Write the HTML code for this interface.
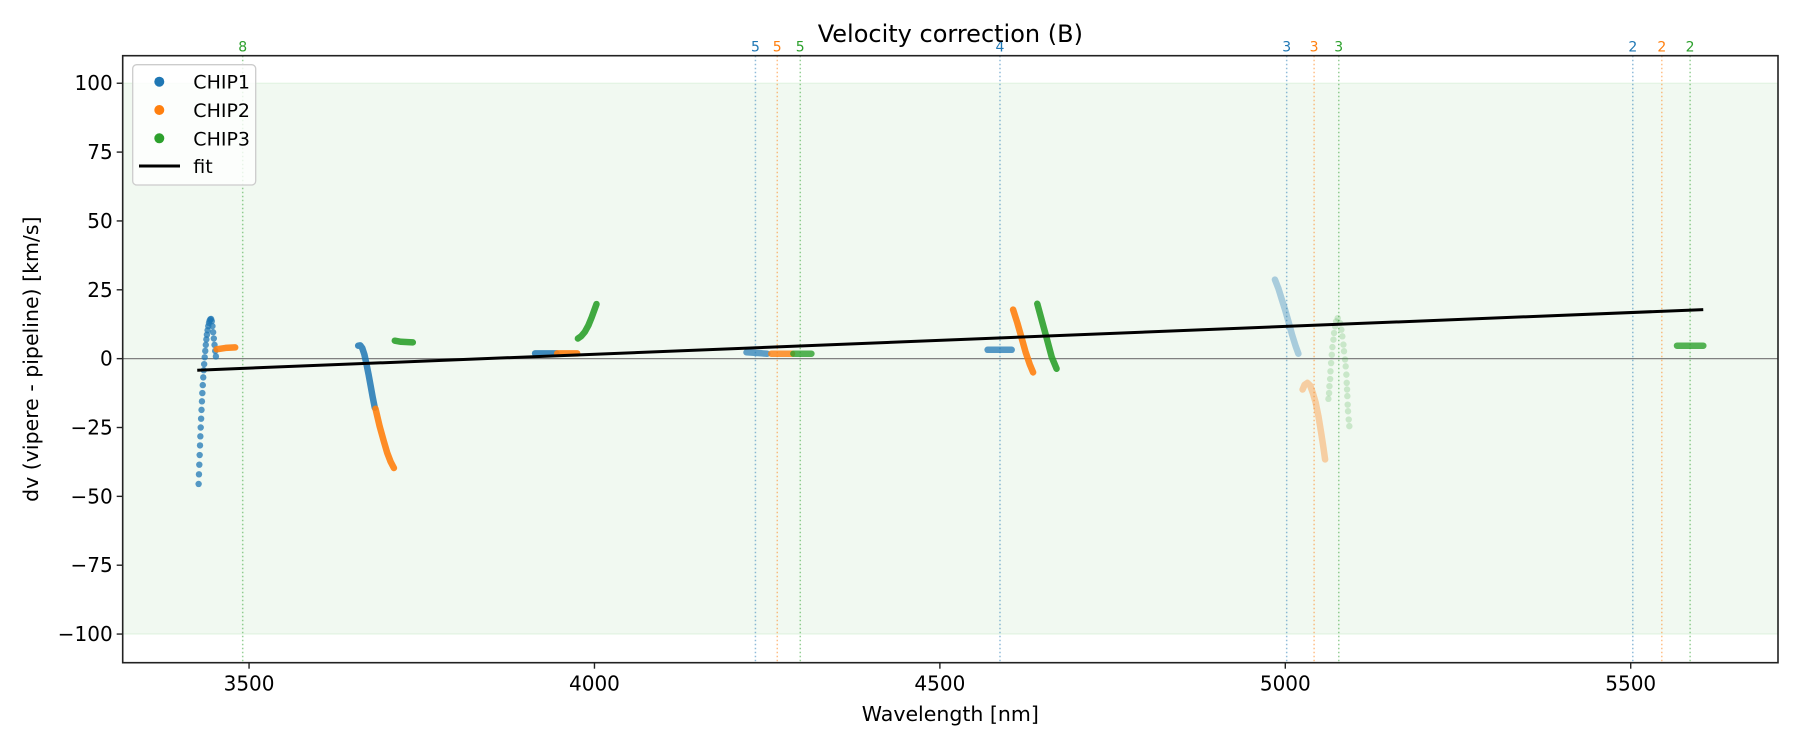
<!DOCTYPE html>
<html><head><meta charset="utf-8"><style>
html,body{margin:0;padding:0;background:#fff;}
svg{display:block;font-family:"DejaVu Sans","Liberation Sans",sans-serif;}
</style></head><body>
<svg id="chart" width="1800" height="750" viewBox="0 0 1800 750" xmlns="http://www.w3.org/2000/svg">
<g id="plot"></g>
</svg>
<script>
const xTicks=[3500,4000,4500,5000,5500];
const yTicks=[-100,-75,-50,-25,0,25,50,75,100];
const yTickLabels=["\u2212100","\u221275","\u221250","\u221225","0","25","50","75","100"];
const ordWl=[3490.8,4233,4264.6,4297.9,4587,5002,5041.7,5077.4,5503,5545,5586];
const ordLabel=["8","5","5","5","4","3","3","3","2","2","2"];
const ordChip=[2,0,1,2,0,0,1,2,0,1,2];
const fitWl=[3425,5605];
const fitV=[-4.2,17.8];
const bandV=[-100,100];

const c1o8Wl=[3427,3427.5,3428,3428.5,3429,3429.5,3430,3430.6,3431.2,3431.8,3432.4,3433,3433.7,3434.4,3435,3435.8,3436.6,3437.4,3438.2,3439,3440,3441,3442,3443,3444,3445,3446,3447,3448,3449,3450,3451,3452];
const c1o8V=[-45.5,-42,-38.5,-35,-31.5,-28.2,-25,-21.8,-18.6,-15.5,-12.5,-9.6,-6.8,-4.2,-2,0.5,2.8,5,7,8.7,10.3,11.8,13,13.8,14.3,14.4,13.6,11.8,9.6,7.3,5,2.8,0.8];
const c2o8Wl=[3453,3466,3480];
const c2o8V=[3.4,3.9,4.1];
const c1o7Wl=[3658,3661,3664,3667,3670,3673,3676,3679,3682];
const c1o7V=[4.7,4.8,3.8,1.5,-2,-5.8,-9.8,-14,-17.8];
const c2o7Wl=[3683,3689,3695,3700,3705,3709.6];
const c2o7V=[-18.2,-24.5,-30,-34.2,-37.5,-39.7];
const c3o7Wl=[3711,3720,3737];
const c3o7V=[6.5,6.1,5.9];
const c1o6Wl=[3914,3945];
const c1o6V=[1.9,1.9];
const c2o6Wl=[3946,3975];
const c2o6V=[1.9,1.9];
const c3o6Wl=[3976,3981,3986,3991,3996,4000,4003];
const c3o6V=[7.3,8.2,9.7,12,15,17.8,19.8];
const c1o5Wl=[4220,4250];
const c1o5V=[2.3,1.8];
const c2o5Wl=[4256,4286];
const c2o5V=[1.8,1.8];
const c3o5Wl=[4288,4314];
const c3o5V=[1.8,1.8];
const c1o4Wl=[4569,4604];
const c1o4V=[3.2,3.2];
const c2o4Wl=[4606,4612,4618,4624,4630,4635];
const c2o4V=[17.8,13,7.8,2.5,-2,-5];
const c3o4Wl=[4641,4648,4655,4662,4669];
const c3o4V=[19.9,13.5,7,0.5,-3.7];
const c1o3Wl=[4985,4990,4995,5000,5005,5010,5015,5019];
const c1o3V=[28.7,25.5,21.5,17.5,13,8.5,4.5,1.8];
const c2o3Wl=[5025,5028,5032,5036,5040,5044,5048,5052,5055,5057.6];
const c2o3V=[-11.2,-9.5,-8.8,-9.8,-12.5,-16,-21,-27,-32,-36.6];
const c3o3Wl=[5062.4,5063.4,5063.9,5064.9,5065.4,5066.3,5067.3,5068.2,5069.7,5070.6,5072.1,5073.5,5075.9,5079.3,5081.2,5082.6,5084.1,5085.0,5086.5,5087.4,5088.4,5088.9,5089.4,5089.8,5090.3,5090.8,5091.8,5092.7];
const c3o3V=[-14.6,-12.5,-10.0,-7.4,-4.6,-1.6,1.4,4.2,6.9,9.3,11.7,13.5,14.7,12.9,10.5,8.1,5.1,2.7,-0.3,-2.8,-5.8,-8.8,-11.2,-13.6,-16.7,-19.1,-22.1,-24.5];
const c3o2Wl=[5567,5605];
const c3o2V=[4.7,4.7];

const colors=["#1f77b4","#ff7f0e","#2ca02c"];
const L=122.7,R=1778,T=55.7,B=662.7;
const X0=3317.1,X1=5713.2,Y0=-110.4,Y1=110;
function sx(w){return L+(w-X0)/(X1-X0)*(R-L);}
function sy(v){return B-(v-Y0)/(Y1-Y0)*(B-T);}
const NS="http://www.w3.org/2000/svg";
const svg=document.getElementById('chart');
const plot=document.getElementById('plot');
function mk(tag,attrs,parent){const e=document.createElementNS(NS,tag);for(const k in attrs)e.setAttribute(k,attrs[k]);(parent||svg).appendChild(e);return e;}

let band=mk('rect',{x:L,y:sy(bandV[1]),width:R-L,height:sy(bandV[0])-sy(bandV[1]),fill:'#2ca02c','fill-opacity':0.065,stroke:'#2ca02c','stroke-opacity':0.08,'stroke-width':1.5},plot);


let z=mk('line',{x1:L,x2:R,y1:sy(0),y2:sy(0),stroke:'#808080','stroke-width':1.2},plot);


for(let i=0;i<ordWl.length;i++){
  const x=sx(ordWl[i]);
  let ln=mk('line',{x1:x,x2:x,y1:T,y2:B,stroke:colors[ordChip[i]],'stroke-opacity':0.5,'stroke-width':1.5,'stroke-dasharray':'1.5 2.5'},plot);
  
  
  let t=mk('text',{x:x,y:T-4,'text-anchor':'middle','font-size':14,fill:colors[ordChip[i]]});
  t.textContent=ordLabel[i];
  
  
}
const groups=[
 [c1o8Wl,c1o8V,0,0.75,false,'chip1-order8'],
 [c2o8Wl,c2o8V,1,0.9,true,'chip2-order8'],
 [c1o7Wl,c1o7V,0,0.85,true,'chip1-order7'],
 [c2o7Wl,c2o7V,1,0.9,true,'chip2-order7'],
 [c3o7Wl,c3o7V,2,0.9,true,'chip3-order7'],
 [c1o6Wl,c1o6V,0,0.85,true,'chip1-order6'],
 [c2o6Wl,c2o6V,1,0.9,true,'chip2-order6'],
 [c3o6Wl,c3o6V,2,0.9,true,'chip3-order6'],
 [c1o5Wl,c1o5V,0,0.7,true,'chip1-order5'],
 [c2o5Wl,c2o5V,1,0.8,true,'chip2-order5'],
 [c3o5Wl,c3o5V,2,0.8,true,'chip3-order5'],
 [c1o4Wl,c1o4V,0,0.75,true,'chip1-order4'],
 [c2o4Wl,c2o4V,1,0.9,true,'chip2-order4'],
 [c3o4Wl,c3o4V,2,0.9,true,'chip3-order4'],
 [c1o3Wl,c1o3V,0,0.35,true,'chip1-order3'],
 [c2o3Wl,c2o3V,1,0.35,true,'chip2-order3'],
 [c3o3Wl,c3o3V,2,0.2,false,'chip3-order3'],
 [c3o2Wl,c3o2V,2,0.8,true,'chip3-order2']
];
groups.forEach(g=>{
  const [wl,v,c,a,dense,name]=g;
  const gr=mk('g',{},plot);
  
  
  if(dense){
    let d='';
    for(let i=0;i<wl.length;i++)d+=(i?'L':'M')+sx(wl[i]).toFixed(1)+' '+sy(v[i]).toFixed(1);
    mk('path',{d:d,fill:'none',stroke:colors[c],'stroke-opacity':a,'stroke-width':6.5,'stroke-linecap':'round','stroke-linejoin':'round'},gr);
  }else{
    for(let i=0;i<wl.length;i++){
      let p=mk('circle',{cx:sx(wl[i]),cy:sy(v[i]),r:3.2,fill:colors[c],'fill-opacity':a},gr);
      
      
    }
  }
});
let fit=mk('line',{x1:sx(fitWl[0]),y1:sy(fitV[0]),x2:sx(fitWl[1]),y2:sy(fitV[1]),stroke:'#000','stroke-width':3},plot);


let fr=mk('rect',{x:L,y:T,width:R-L,height:B-T,fill:'none',stroke:'#222','stroke-width':1.6});


xTicks.forEach(t=>{
  const x=sx(t);
  let tk=mk('line',{x1:x,x2:x,y1:B,y2:B+6,stroke:'#222','stroke-width':1.4});
  
  
  let tx=mk('text',{x:x,y:B+28,'text-anchor':'middle','font-size':20,fill:'#000'});
  tx.textContent=String(t);
  
  
});
yTicks.forEach((t,i)=>{
  const y=sy(t);
  let tk=mk('line',{x1:L-6,x2:L,y1:y,y2:y,stroke:'#222','stroke-width':1.4});
  
  
  let tx=mk('text',{x:L-10,y:y+7,'text-anchor':'end','font-size':20,fill:'#000'});
  tx.textContent=yTickLabels[i];
  
  
});
let ti=mk('text',{x:(L+R)/2,y:42,'text-anchor':'middle','font-size':24,fill:'#000'});
ti.textContent='Velocity correction (B)';


let xl=mk('text',{x:(L+R)/2,y:721,'text-anchor':'middle','font-size':20.5,fill:'#000'});
xl.textContent='Wavelength [nm]';


let yl=mk('text',{x:0,y:0,'text-anchor':'middle','font-size':20.5,fill:'#000',transform:'translate(38,'+((T+B)/2)+') rotate(-90)'});
yl.textContent='dv (vipere - pipeline) [km/s]';


const lg=mk('g',{});


mk('rect',{x:132.7,y:64.7,width:123,height:120.3,rx:4,fill:'#fff','fill-opacity':0.8,stroke:'#ccc','stroke-width':1.3},lg);
const legNames=['CHIP1','CHIP2','CHIP3','fit'];
const legY=[81.7,110,138.3,166];
legNames.forEach((n,i)=>{
  const e=mk('g',{},lg);
  
  
  if(i<3)mk('circle',{cx:159.3,cy:legY[i],r:5,fill:colors[i]},e);
  else mk('line',{x1:139,x2:180,y1:legY[i],y2:legY[i],stroke:'#000','stroke-width':3},e);
  const t=mk('text',{x:193.3,y:legY[i]+7,'font-size':19,fill:'#000'},e);
  t.textContent=n;
});
</script>
</body></html>
